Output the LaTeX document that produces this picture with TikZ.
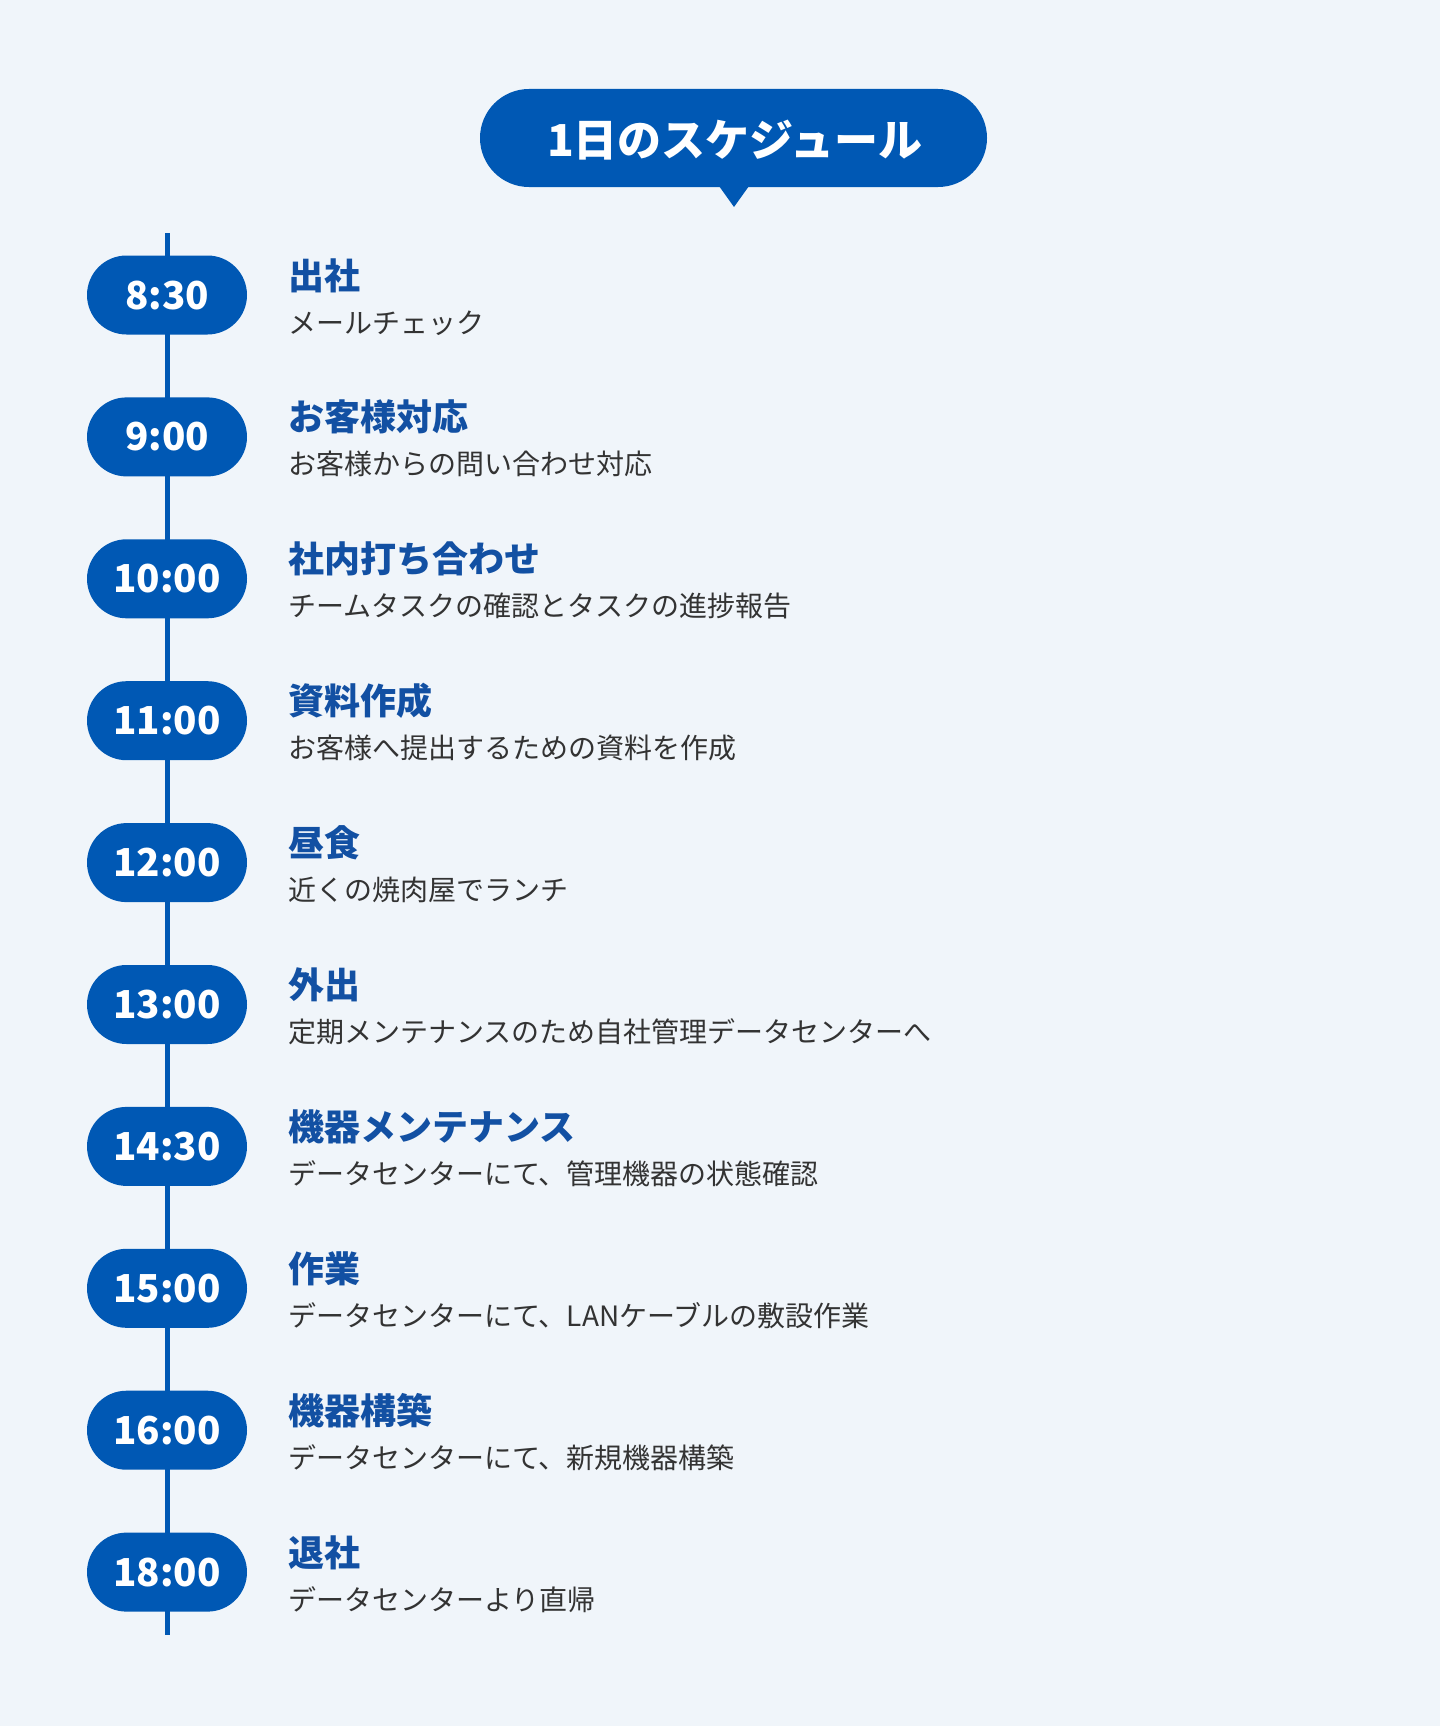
\documentclass[tikz,border=0pt]{standalone}
\usepackage{fontspec}
\setmainfont{Noto Sans CJK JP}
\definecolor{bg}{HTML}{F0F5FA}
\definecolor{mainblue}{HTML}{0058B4}
\definecolor{headblue}{HTML}{1250A3}
\definecolor{subgray}{HTML}{333333}
\tikzset{
  timepill/.style={fill=mainblue, rounded corners=39.5pt, minimum width=160pt, minimum height=79pt, inner sep=0pt},
  timetext/.style={text=white, font=\bfseries\fontsize{38.5}{44}\selectfont, anchor=base, inner sep=0pt},
  headtext/.style={text=headblue, font=\bfseries\fontsize{36}{40}\selectfont, anchor=base west, inner sep=0pt},
  subtext/.style={text=subgray, font=\fontsize{28}{32}\selectfont, anchor=base west, inner sep=0pt},
  axisline/.style={draw=mainblue, line width=5pt},
}
\begin{document}
\begin{tikzpicture}[x=1pt,y=-1pt]
\useasboundingbox[fill=bg] (0,0) rectangle (1440,1726);
% title bubble
\fill[mainblue, rounded corners=49pt] (480,89) rectangle (987,187);
\fill[mainblue] (719,186) -- (749,186) -- (734,207) -- cycle;
\node[text=white, font=\bfseries\fontsize{44}{50}\selectfont, anchor=base, inner sep=0pt] (title) at (735,157) {1日のスケジュール};
% axis
\coordinate (axtop) at (167,233);
\coordinate (axbot) at (167,1635);
\draw[axisline] (axtop) -- (axbot);
\foreach \i/\t/\h/\s in {
  0/8:30/出社/メールチェック,
  1/9:00/お客様対応/お客様からの問い合わせ対応,
  2/10:00/社内打ち合わせ/チームタスクの確認とタスクの進捗報告,
  3/11:00/資料作成/お客様へ提出するための資料を作成,
  4/12:00/昼食/近くの焼肉屋でランチ,
  5/13:00/外出/定期メンテナンスのため自社管理データセンターへ,
  6/14:30/機器メンテナンス/データセンターにて、管理機器の状態確認,
  7/15:00/作業/データセンターにて、LANケーブルの敷設作業,
  8/16:00/機器構築/データセンターにて、新規機器構築,
  9/18:00/退社/データセンターより直帰}{
  \pgfmathsetmacro{\yc}{295+141.9*\i}
  \node[timepill] (p\i) at (167,\yc) {};
  \node[timetext] (t\i) at (167,\yc+14) {\t};
  \node[headtext] (h\i) at (288,\yc-6) {\h};
  \node[subtext] (s\i) at (288,\yc+38) {\s};
}
\end{tikzpicture}
\end{document}
